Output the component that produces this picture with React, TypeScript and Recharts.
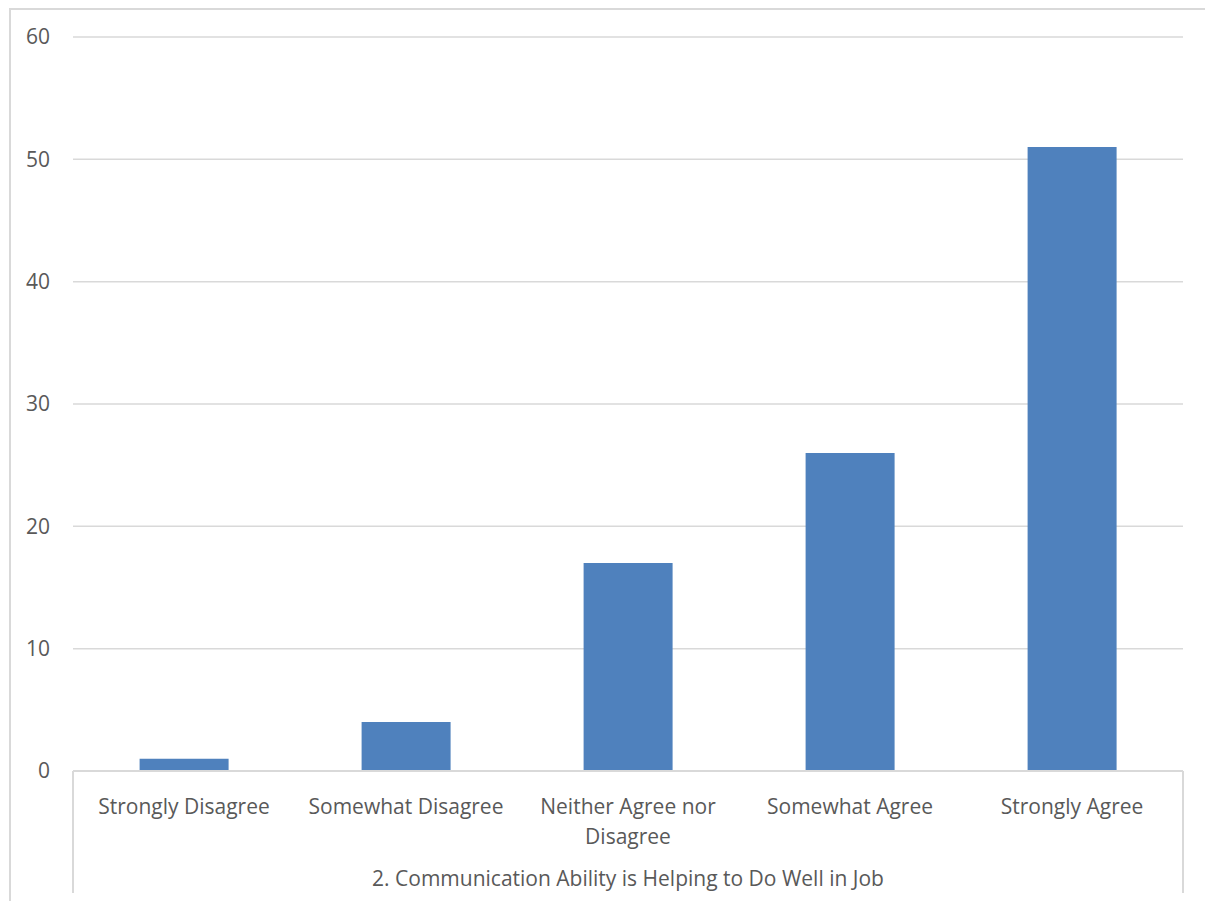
import { BarChart, Bar, XAxis, YAxis, CartesianGrid } from "recharts";

const categories = [
  "Strongly Disagree",
  "Somewhat Disagree",
  "Neither Agree nor Disagree",
  "Somewhat Agree",
  "Strongly Agree",
];
const counts = [1, 4, 17, 26, 51];
const yTicks = [0, 10, 20, 30, 40, 50, 60];
const groupTitle = "2. Communication Ability is Helping to Do Well in Job";

const data = categories.map((name, i) => ({ name, value: counts[i] }));

const FONT = "'Open Sans', sans-serif";
const TEXT = "#595959";
const LINE = "#d9d9d9";
const FS = 21;

// break a label into lines of at most `max` characters
function wrap(label: string, max = 18) {
  const lines: string[] = [];
  let cur = "";
  label.split(" ").forEach((w) => {
    const next = cur ? cur + " " + w : w;
    if (next.length > max && cur) {
      lines.push(cur);
      cur = w;
    } else {
      cur = next;
    }
  });
  if (cur) lines.push(cur);
  return lines;
}

function CategoryTick(props: any) {
  const { x, y, payload } = props;
  const lines = wrap(String(payload.value));
  return (
    <text
      x={x}
      y={y + 35}
      textAnchor="middle"
      fill={TEXT}
      fontSize={FS}
      fontFamily={FONT}
    >
      {lines.map((l, i) => (
        <tspan key={i} x={x} dy={i === 0 ? 0 : 30}>
          {l}
        </tspan>
      ))}
    </text>
  );
}

export default function App() {
  return (
    <div
      style={{
        position: "fixed",
        left: 0,
        top: 0,
        width: 1205,
        height: 901,
        overflow: "hidden",
        background: "#fff",
      }}
    >
      {/* chart border (only top and left edges are in view) */}
      <div style={{ position: "absolute", left: 9, top: 8, width: 1196, height: 2, background: LINE }} />
      <div style={{ position: "absolute", left: 9, top: 8, width: 2, height: 893, background: LINE }} />
      {/* category group brackets */}
      <div style={{ position: "absolute", left: 72, top: 771, width: 1.5, height: 122, background: LINE }} />
      <div style={{ position: "absolute", left: 1182, top: 771, width: 1.5, height: 122, background: LINE }} />
      <BarChart
        width={1205}
        height={901}
        data={data}
        margin={{ top: 37, right: 22, bottom: 0, left: 0 }}
        barCategoryGap="30%"
        style={{ position: "absolute", left: 0, top: 0 }}
      >
        <CartesianGrid vertical={false} stroke={LINE} strokeWidth={1.5} />
        <XAxis
          dataKey="name"
          height={130}
          interval={0}
          tickLine={false}
          axisLine={{ stroke: LINE, strokeWidth: 2 }}
          tick={<CategoryTick />}
          label={{
            value: groupTitle,
            position: "insideBottom",
            offset: 15,
            fill: TEXT,
            fontSize: FS,
            fontFamily: FONT,
          }}
        />
        <YAxis
          width={73}
          domain={[0, 60]}
          ticks={yTicks}
          interval={0}
          axisLine={false}
          tickLine={false}
          tickSize={0}
          tickMargin={23}
          tick={{ fill: TEXT, fontSize: FS, fontFamily: FONT }}
        />
        <Bar dataKey="value" fill="#4f81bd" isAnimationActive={false} />
      </BarChart>
    </div>
  );
}
